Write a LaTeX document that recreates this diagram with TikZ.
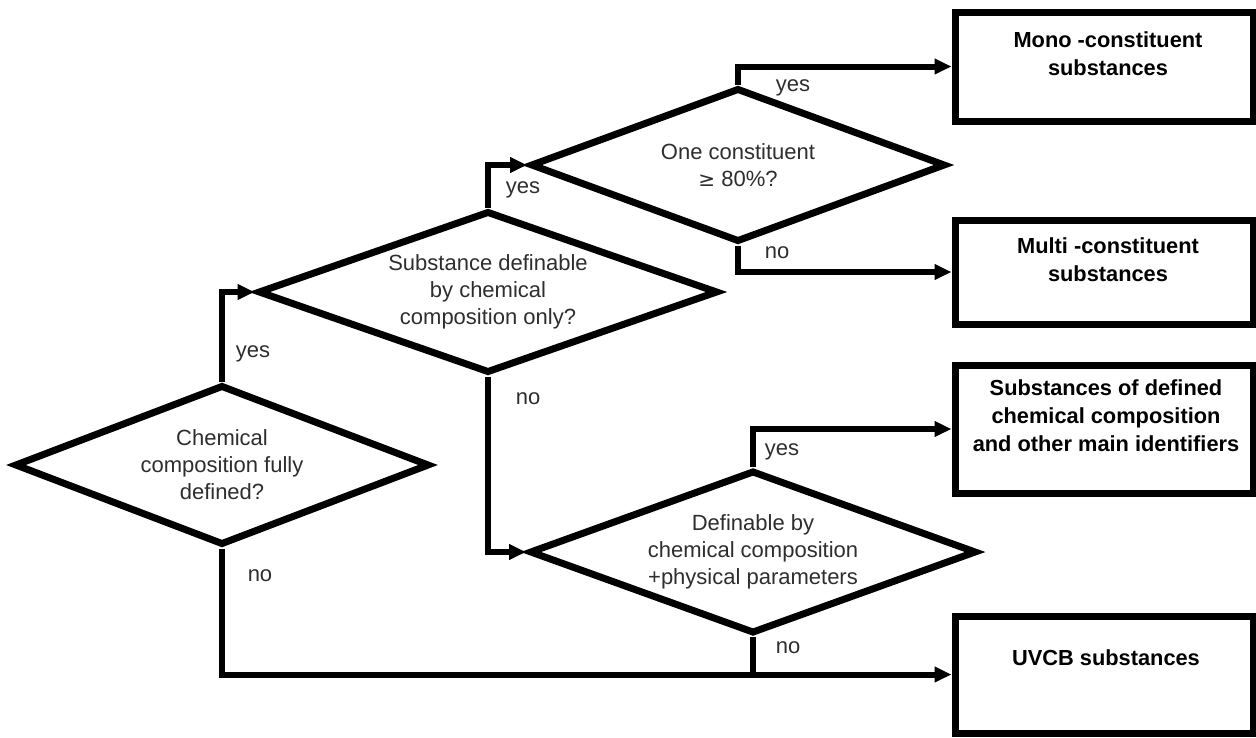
\documentclass[tikz,border=0pt]{standalone}
\usepackage{fontspec}
\setmainfont{Liberation Sans}
\usetikzlibrary{shapes.geometric,arrows.meta}
\newcommand\dfont{\fontsize{22}{27}\selectfont}
\newcommand\bfont{\fontsize{21.8}{28}\selectfont\bfseries}
\definecolor{txt}{HTML}{2E2E2E}
\begin{document}
\begin{tikzpicture}[x=1pt,y=-1pt,
  dec/.style={diamond, draw=black, line width=7pt, inner sep=0pt, align=center,
              font=\dfont, text=txt},
  outbox/.style={rectangle, draw=black, line width=7pt, inner sep=0pt, minimum width=298pt},
  boxtext/.style={align=center, font=\bfont, text=black, inner sep=0pt},
  conn/.style={line width=6pt, line join=miter},
  arr/.style={conn, -{Triangle[length=17pt,width=15pt]}},
  lbl/.style={font=\dfont, text=txt, inner sep=0pt}]
\useasboundingbox (0,0) rectangle (1256,737);
\clip (0,0) rectangle (1256,737);
\fill[white] (0,0) rectangle (1256,737);

% decisions
\node[dec, minimum width=415pt, minimum height=160pt, shape aspect=2.59] (d1) at (222,465)
  {Chemical\\composition fully\\defined?};
\node[dec, minimum width=460pt, minimum height=162pt, shape aspect=2.84] (d2) at (488,292)
  {Substance definable\\by chemical\\composition only?};
\node[dec, minimum width=415pt, minimum height=154pt, shape aspect=2.69] (d3) at (738,165)
  {One constituent\\{\fontspec{DejaVu Sans}\fontsize{20}{27}\selectfont ≥} 80\%?};
\node[dec, minimum width=447pt, minimum height=163pt, shape aspect=2.74] (d4) at (753,552)
  {Definable by\\chemical composition\\+physical parameters};

% outcome boxes
\node[outbox, minimum height=109pt] (b1) at (1104,66.5) {};
\node[outbox, minimum height=104pt] (b2) at (1104,272) {};
\node[outbox, minimum height=128pt] (b3) at (1104,429) {};
\node[outbox, minimum height=117pt] (b4) at (1104,674.5) {};

\node[boxtext] (t1) at (1108,53.5) {Mono -constituent\\substances};
\node[boxtext] (t2) at (1108,259.5) {Multi -constituent\\substances};
\node[boxtext] (t3) at (1106,415.5) {Substances of defined\\chemical composition\\and other main identifiers};
\node[boxtext] (t4) at (1106,658) {UVCB substances};

% connectors
\draw[arr] (d1.north) |- (d2.west);
\draw[arr] (d1.south) |- (b4.west);
\draw[arr] (d2.north) |- (d3.west);
\draw[arr] (d2.south) |- (d4.west);
\draw[arr] (d3.north) |- (b1.west);
\draw[arr] (d3.south) |- (b2.west);
\draw[arr] (d4.north) |- (b3.west);
\draw[conn] (d4.south) -- (d4.south |- b4.west);

% labels
\node[lbl] (l1) at (253,354) {yes};
\node[lbl] (l2) at (260,576) {no};
\node[lbl] (l3) at (523,190) {yes};
\node[lbl] (l4) at (528,399) {no};
\node[lbl] (l5) at (793,88) {yes};
\node[lbl] (l6) at (777,253) {no};
\node[lbl] (l7) at (782,452) {yes};
\node[lbl] (l8) at (788,648) {no};
\end{tikzpicture}
\end{document}
